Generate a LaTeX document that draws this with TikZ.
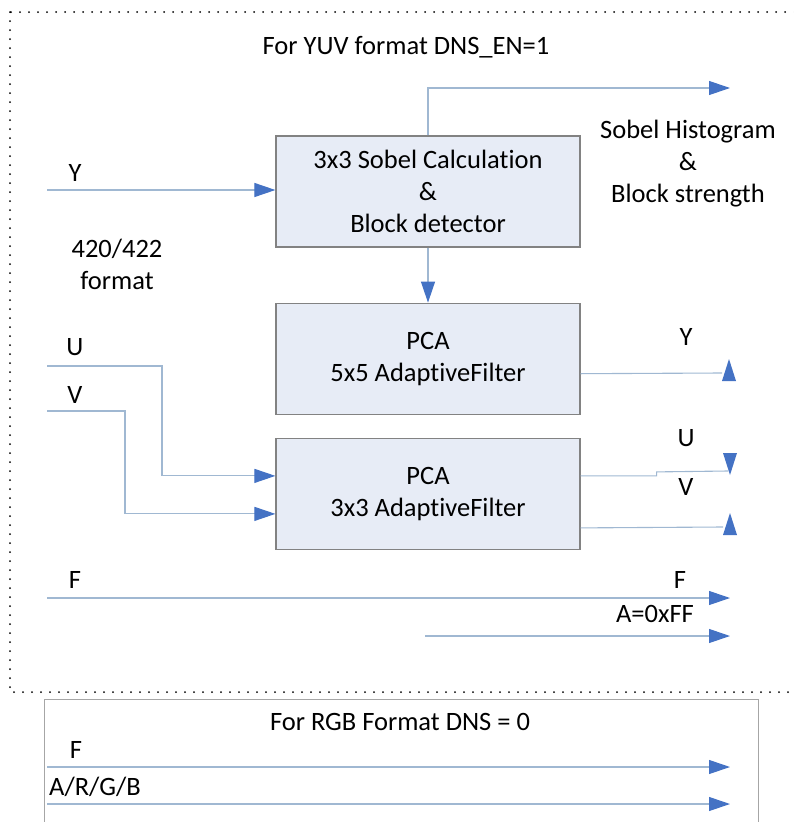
\documentclass[tikz,border=0pt]{standalone}
\usepackage{fontspec}
\setmainfont{Carlito}[RawFeature=-liga]
\usetikzlibrary{arrows.meta,positioning}
\definecolor{boxfill}{RGB}{231,236,246}
\definecolor{boxline}{RGB}{130,130,130}
\definecolor{wirecol}{RGB}{160,184,210}
\definecolor{tipcol}{RGB}{68,114,196}
\tikzstyle{block}=[
	draw=boxline,
	line width=1.2pt,
	fill=boxfill,
	minimum width=304pt,
	minimum height=111pt,
	inner sep=0pt,
	align=center
]
\tikzstyle{wire}=[
	draw=wirecol,
	line width=1.1pt
]
\tikzstyle{sig}=[
	wire,
	-{Triangle[length=21pt,width=14pt,color=tipcol]}
]
\tikzstyle{lbl}=[
	inner sep=0pt,
	align=center
]
\tikzstyle{frame}=[
	line width=2pt,
	dash pattern=on 0pt off 9pt,
	line cap=round
]

\begin{document}
\begin{tikzpicture}[x=1pt, y=-1pt, font=\fontsize{26.5}{32}\selectfont]
\clip (0,0) rectangle (793,822);

% frames
\draw[frame] (10,12) rectangle (820,692);
\draw[draw=gray!70, line width=1pt] (44,699) rectangle (758,860);

\node[lbl] (yuvtitle) at (406,47) {For YUV format DNS\_EN=1};
\node[lbl] (rgbtitle) at (400,722) {For RGB Format DNS = 0};

% blocks
\node[block] (sobel) at (428,191.5) {3x3 Sobel Calculation\\\&\\Block detector};
\node[block, below=55pt of sobel] (pca5) {PCA\\5x5 AdaptiveFilter};
\node[block, below=23pt of pca5] (pca3) {PCA\\3x3 AdaptiveFilter};

% inputs
\coordinate (yin) at (47,190);
\coordinate (uin) at (47,366);
\coordinate (vin) at (47,411);
\draw[sig] (yin) -- (yin -| sobel.west);
\draw[sig] (uin) -- ++(115,0) |- ([yshift=18pt]pca3.west);
\draw[sig] (vin) -- ++(78,0) |- ([yshift=-20pt]pca3.west);

% sobel outputs
\coordinate (histout) at (730,88);
\draw[sig] (sobel.north) |- (histout);
\draw[sig] (sobel) -- (pca5);

% filter outputs
\coordinate (yout) at (722,373);
\coordinate (uout) at (728,471);
\coordinate (vout) at (723,527);
\draw[wire] ([yshift=-15pt]pca5.east) -- (yout);
\draw[wire] ([yshift=18pt]pca3.east) -- ++(76,0) -- ++(0,-4) -- (uout);
\draw[wire] ([yshift=-34pt]pca3.east) -- (vout);
\foreach \x/\y/\s in {729/381/1, 730/453/-1, 730/535/1}{
    \fill[tipcol] (\x-7,\y) -- (\x+7,\y) -- (\x,\y-22*\s) -- cycle;
}

% pass-through lines
\foreach \n/\xa/\y in {f/47/598, a/425/636, rf/47/767, rgb/47/804}{
    \coordinate (\n-in) at (\xa,\y);
    \coordinate (\n-out) at (730,\y);
    \draw[sig] (\n-in) -- (\n-out);
}

% labels
\node[lbl] (ylab) at (75,173) {Y};
\node[lbl] (fmtlab) at (117,264) {420/422\\format};
\node[lbl] (ulab) at (75,347) {U};
\node[lbl] (vlab) at (75,395) {V};
\node[lbl] (histlab) at (688,164) {Sobel Histogram\\\&\\Block strength};
\node[lbl] (youtlab) at (686,337) {Y};
\node[lbl] (uoutlab) at (686,438) {U};
\node[lbl] (voutlab) at (686,487) {V};
\node[lbl] (flab) at (75,580) {F};
\node[lbl] (foutlab) at (680,580) {F};
\node[lbl] (alab) at (655,614) {A=0xFF};
\node[lbl] (rflab) at (76,750) {F};
\node[lbl] (rgblab) at (95,787) {A/R/G/B};

\end{tikzpicture}
\end{document}
